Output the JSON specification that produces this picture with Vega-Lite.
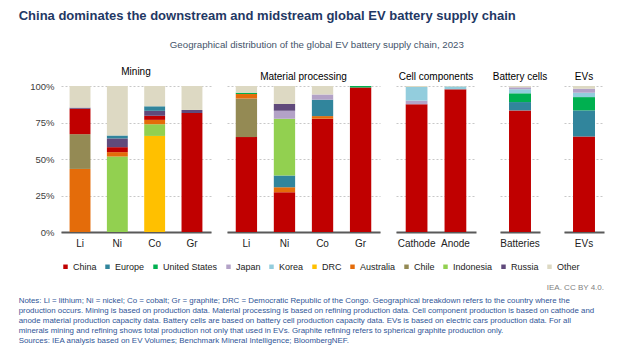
{
  "$schema": "https://vega.github.io/schema/vega-lite/v6.json",
  "padding": {"left": 18, "top": 10, "right": 5, "bottom": 5},
  "background": "white",
  "title": {
    "text": "China dominates the downstream and midstream global EV battery supply chain",
    "anchor": "start", "frame": "bounds", "fontSize": 13, "fontWeight": "bold",
    "font": "Liberation Sans", "color": "#1f3864", "offset": 17
  },
  "config": {
    "font": "Liberation Sans",
    "view": {"stroke": null},
    "axis": {"labelFont": "Liberation Sans", "labelColor": "#222222", "ticks": false, "title": null}
  },
  "datasets": {
    "d": [
      {"stage": "Mining", "item": "Li", "region": "Australia", "share": 43.2},
      {"stage": "Mining", "item": "Li", "region": "Chile", "share": 23.8},
      {"stage": "Mining", "item": "Li", "region": "China", "share": 17.4},
      {"stage": "Mining", "item": "Li", "region": "Russia", "share": 0.8},
      {"stage": "Mining", "item": "Li", "region": "Other", "share": 14.8},
      {"stage": "Mining", "item": "Ni", "region": "Indonesia", "share": 51.7},
      {"stage": "Mining", "item": "Ni", "region": "Australia", "share": 3.0},
      {"stage": "Mining", "item": "Ni", "region": "China", "share": 3.4},
      {"stage": "Mining", "item": "Ni", "region": "Russia", "share": 6.0},
      {"stage": "Mining", "item": "Ni", "region": "Europe", "share": 2.0},
      {"stage": "Mining", "item": "Ni", "region": "Other", "share": 33.9},
      {"stage": "Mining", "item": "Co", "region": "DRC", "share": 65.8},
      {"stage": "Mining", "item": "Co", "region": "Indonesia", "share": 8.0},
      {"stage": "Mining", "item": "Co", "region": "Australia", "share": 3.0},
      {"stage": "Mining", "item": "Co", "region": "China", "share": 2.8},
      {"stage": "Mining", "item": "Co", "region": "Russia", "share": 3.4},
      {"stage": "Mining", "item": "Co", "region": "Europe", "share": 3.1},
      {"stage": "Mining", "item": "Co", "region": "Other", "share": 13.9},
      {"stage": "Mining", "item": "Gr", "region": "China", "share": 81.5},
      {"stage": "Mining", "item": "Gr", "region": "Russia", "share": 2.1},
      {"stage": "Mining", "item": "Gr", "region": "Other", "share": 16.4},
      {"stage": "Material processing", "item": "Li", "region": "China", "share": 65.0},
      {"stage": "Material processing", "item": "Li", "region": "Chile", "share": 26.4},
      {"stage": "Material processing", "item": "Li", "region": "Australia", "share": 3.1},
      {"stage": "Material processing", "item": "Li", "region": "United States", "share": 0.9},
      {"stage": "Material processing", "item": "Li", "region": "Other", "share": 4.6},
      {"stage": "Material processing", "item": "Ni", "region": "China", "share": 27.2},
      {"stage": "Material processing", "item": "Ni", "region": "Australia", "share": 3.5},
      {"stage": "Material processing", "item": "Ni", "region": "Europe", "share": 8.0},
      {"stage": "Material processing", "item": "Ni", "region": "Indonesia", "share": 38.9},
      {"stage": "Material processing", "item": "Ni", "region": "Japan", "share": 5.4},
      {"stage": "Material processing", "item": "Ni", "region": "Russia", "share": 4.6},
      {"stage": "Material processing", "item": "Ni", "region": "Other", "share": 12.4},
      {"stage": "Material processing", "item": "Co", "region": "China", "share": 77.6},
      {"stage": "Material processing", "item": "Co", "region": "Australia", "share": 1.8},
      {"stage": "Material processing", "item": "Co", "region": "Europe", "share": 11.2},
      {"stage": "Material processing", "item": "Co", "region": "Japan", "share": 3.6},
      {"stage": "Material processing", "item": "Co", "region": "Other", "share": 5.8},
      {"stage": "Material processing", "item": "Gr", "region": "China", "share": 99.0},
      {"stage": "Material processing", "item": "Gr", "region": "United States", "share": 1.0},
      {"stage": "Cell components", "item": "Cathode", "region": "China", "share": 87.5},
      {"stage": "Cell components", "item": "Cathode", "region": "Japan", "share": 2.5},
      {"stage": "Cell components", "item": "Cathode", "region": "Korea", "share": 9.3},
      {"stage": "Cell components", "item": "Cathode", "region": "Other", "share": 0.7},
      {"stage": "Cell components", "item": "Anode", "region": "China", "share": 97.7},
      {"stage": "Cell components", "item": "Anode", "region": "Korea", "share": 2.0},
      {"stage": "Cell components", "item": "Anode", "region": "Other", "share": 0.3},
      {"stage": "Battery cells", "item": "Batteries", "region": "China", "share": 83.3},
      {"stage": "Battery cells", "item": "Batteries", "region": "Europe", "share": 5.7},
      {"stage": "Battery cells", "item": "Batteries", "region": "United States", "share": 6.0},
      {"stage": "Battery cells", "item": "Batteries", "region": "Korea", "share": 2.8},
      {"stage": "Battery cells", "item": "Batteries", "region": "Japan", "share": 1.3},
      {"stage": "Battery cells", "item": "Batteries", "region": "Other", "share": 0.9},
      {"stage": "EVs", "item": "EVs", "region": "China", "share": 65.4},
      {"stage": "EVs", "item": "EVs", "region": "Europe", "share": 17.9},
      {"stage": "EVs", "item": "EVs", "region": "United States", "share": 9.1},
      {"stage": "EVs", "item": "EVs", "region": "Korea", "share": 3.0},
      {"stage": "EVs", "item": "EVs", "region": "Japan", "share": 2.7},
      {"stage": "EVs", "item": "EVs", "region": "Other", "share": 1.9}
    ]
  },
  "vconcat": [
    {
      "title": {
        "text": [
          "Notes: Li = lithium; Ni = nickel; Co = cobalt; Gr = graphite; DRC = Democratic Republic of the Congo. Geographical breakdown refers to the country where the",
          "production occurs. Mining is based on production data. Material processing is based on refining production data. Cell component production is based on cathode and",
          "anode material production capacity data. Battery cells are based on battery cell production capacity data. EVs is based on electric cars production data. For all",
          "minerals mining and refining shows total production not only that used in EVs. Graphite refining refers to spherical graphite production only."
        ],
        "subtitle": "Sources: IEA analysis based on EV Volumes; Benchmark Mineral Intelligence; BloombergNEF.",
        "orient": "bottom", "anchor": "start", "frame": "bounds", "dx": -11, "offset": 5,
        "font": "Liberation Sans", "fontSize": 7.9, "fontWeight": "normal", "lineHeight": 10, "color": "#2f5597",
        "subtitleFont": "Liberation Sans", "subtitleFontSize": 7.9, "subtitleColor": "#2f5597", "subtitlePadding": 2
      },
      "resolve": {"scale": {"color": "independent"}, "legend": {"color": "independent"}},
      "vconcat": [
        {
          "title": {
            "text": "IEA. CC BY 4.0.", "orient": "bottom", "anchor": "end", "frame": "bounds", "offset": 12,
            "font": "Liberation Sans", "fontSize": 8, "fontWeight": "normal", "color": "#7f7f7f"
          },
          "vconcat": [
            {
              "title": {
                "text": "Geographical distribution of the global EV battery supply chain, 2023",
                "anchor": "middle", "frame": "bounds", "offset": 17,
                "font": "Liberation Sans", "fontSize": 9.7, "fontWeight": "normal", "color": "#44546a"
              },
              "spacing": 16,
              "hconcat": [
                {
                  "width": 150, "height": 146,
                  "title": {"text": "Mining", "frame": "group", "anchor": "middle", "offset": 4, "fontSize": 10, "fontWeight": "normal", "color": "#000000", "font": "Liberation Sans"},
                  "data": {"name": "d"},
                  "transform": [{"filter": "datum.stage === 'Mining'"}, {"window": [{"op": "row_number", "as": "idx"}]}],
                  "mark": {"type": "bar"},
                  "encoding": {
                    "x": {"field": "item", "type": "nominal", "sort": null, "scale": {"paddingInner": 0.44, "paddingOuter": 0.23},
                      "axis": {"labelAngle": 0, "labelFontSize": 10, "labelPadding": 6, "domain": true, "domainColor": "#595959", "domainWidth": 2, "grid": false}},
                    "y": {"field": "share", "type": "quantitative", "stack": "normalize", "scale": {"domain": [0, 1]},
                      "axis": {"values": [0, 0.25, 0.5, 0.75, 1], "format": ".0%", "labelFontSize": 9.5, "labelColor": "#404040", "labelPadding": 7, "domain": false, "grid": true, "gridColor": "#c8c8c8", "gridDash": [2, 2]}},
                    "color": {"field": "region", "type": "nominal",
                      "scale": {"domain": ["China", "Europe", "United States", "Japan", "Korea", "DRC", "Australia", "Chile", "Indonesia", "Russia", "Other"],
                        "range": ["#c00000", "#31859c", "#00b050", "#b3a2c7", "#93cddd", "#ffc000", "#e46c0a", "#948a54", "#92d050", "#604a7b", "#ddd9c3"]},
                      "legend": {"orient": "bottom", "direction": "horizontal", "title": null, "symbolType": "square", "symbolSize": 20, "symbolStrokeWidth": 0, "labelFontSize": 9, "labelFont": "Liberation Sans", "labelColor": "#222222", "columnPadding": 6, "labelOffset": 3, "offset": 14}},
                    "order": {"field": "idx", "type": "quantitative"}
                  }
                },
                {
                  "width": 153, "height": 146,
                  "title": {"text": "Material processing", "frame": "group", "anchor": "middle", "offset": 4, "fontSize": 10, "fontWeight": "normal", "color": "#000000", "font": "Liberation Sans"},
                  "data": {"name": "d"},
                  "transform": [{"filter": "datum.stage === 'Material processing'"}, {"window": [{"op": "row_number", "as": "idx"}]}],
                  "mark": {"type": "bar"},
                  "encoding": {
                    "x": {"field": "item", "type": "nominal", "sort": null, "scale": {"paddingInner": 0.44, "paddingOuter": 0.23},
                      "axis": {"labelAngle": 0, "labelFontSize": 10, "labelPadding": 6, "domain": true, "domainColor": "#595959", "domainWidth": 2, "grid": false}},
                    "y": {"field": "share", "type": "quantitative", "stack": "normalize", "scale": {"domain": [0, 1]},
                      "axis": {"values": [0, 0.25, 0.5, 0.75, 1], "labels": false, "domain": false, "grid": true, "gridColor": "#c8c8c8", "gridDash": [2, 2]}},
                    "color": {"field": "region", "type": "nominal",
                      "scale": {"domain": ["China", "Europe", "United States", "Japan", "Korea", "DRC", "Australia", "Chile", "Indonesia", "Russia", "Other"],
                        "range": ["#c00000", "#31859c", "#00b050", "#b3a2c7", "#93cddd", "#ffc000", "#e46c0a", "#948a54", "#92d050", "#604a7b", "#ddd9c3"]},
                      "legend": {"orient": "bottom", "direction": "horizontal", "title": null, "symbolType": "square", "symbolSize": 20, "symbolStrokeWidth": 0, "labelFontSize": 9, "labelFont": "Liberation Sans", "labelColor": "#222222", "columnPadding": 6, "labelOffset": 3, "offset": 14}},
                    "order": {"field": "idx", "type": "quantitative"}
                  }
                },
                {
                  "width": 80, "height": 146,
                  "title": {"text": "Cell components", "frame": "group", "anchor": "middle", "offset": 4, "fontSize": 10, "fontWeight": "normal", "color": "#000000", "font": "Liberation Sans"},
                  "data": {"name": "d"},
                  "transform": [{"filter": "datum.stage === 'Cell components'"}, {"window": [{"op": "row_number", "as": "idx"}]}],
                  "mark": {"type": "bar"},
                  "encoding": {
                    "x": {"field": "item", "type": "nominal", "sort": null, "scale": {"paddingInner": 0.44, "paddingOuter": 0.25},
                      "axis": {"labelAngle": 0, "labelFontSize": 10, "labelPadding": 6, "domain": true, "domainColor": "#595959", "domainWidth": 2, "grid": false}},
                    "y": {"field": "share", "type": "quantitative", "stack": "normalize", "scale": {"domain": [0, 1]},
                      "axis": {"values": [0, 0.25, 0.5, 0.75, 1], "labels": false, "domain": false, "grid": true, "gridColor": "#c8c8c8", "gridDash": [2, 2]}},
                    "color": {"field": "region", "type": "nominal",
                      "scale": {"domain": ["China", "Europe", "United States", "Japan", "Korea", "DRC", "Australia", "Chile", "Indonesia", "Russia", "Other"],
                        "range": ["#c00000", "#31859c", "#00b050", "#b3a2c7", "#93cddd", "#ffc000", "#e46c0a", "#948a54", "#92d050", "#604a7b", "#ddd9c3"]},
                      "legend": {"orient": "bottom", "direction": "horizontal", "title": null, "symbolType": "square", "symbolSize": 20, "symbolStrokeWidth": 0, "labelFontSize": 9, "labelFont": "Liberation Sans", "labelColor": "#222222", "columnPadding": 6, "labelOffset": 3, "offset": 14}},
                    "order": {"field": "idx", "type": "quantitative"}
                  }
                },
                {
                  "width": 40, "height": 146,
                  "title": {"text": "Battery cells", "frame": "group", "anchor": "middle", "offset": 4, "fontSize": 10, "fontWeight": "normal", "color": "#000000", "font": "Liberation Sans"},
                  "data": {"name": "d"},
                  "transform": [{"filter": "datum.stage === 'Battery cells'"}, {"window": [{"op": "row_number", "as": "idx"}]}],
                  "mark": {"type": "bar"},
                  "encoding": {
                    "x": {"field": "item", "type": "nominal", "sort": null, "scale": {"paddingInner": 0.44, "paddingOuter": 0.23},
                      "axis": {"labelAngle": 0, "labelFontSize": 10, "labelPadding": 6, "domain": true, "domainColor": "#595959", "domainWidth": 2, "grid": false}},
                    "y": {"field": "share", "type": "quantitative", "stack": "normalize", "scale": {"domain": [0, 1]},
                      "axis": {"values": [0, 0.25, 0.5, 0.75, 1], "labels": false, "domain": false, "grid": true, "gridColor": "#c8c8c8", "gridDash": [2, 2]}},
                    "color": {"field": "region", "type": "nominal",
                      "scale": {"domain": ["China", "Europe", "United States", "Japan", "Korea", "DRC", "Australia", "Chile", "Indonesia", "Russia", "Other"],
                        "range": ["#c00000", "#31859c", "#00b050", "#b3a2c7", "#93cddd", "#ffc000", "#e46c0a", "#948a54", "#92d050", "#604a7b", "#ddd9c3"]},
                      "legend": {"orient": "bottom", "direction": "horizontal", "title": null, "symbolType": "square", "symbolSize": 20, "symbolStrokeWidth": 0, "labelFontSize": 9, "labelFont": "Liberation Sans", "labelColor": "#222222", "columnPadding": 6, "labelOffset": 3, "offset": 14}},
                    "order": {"field": "idx", "type": "quantitative"}
                  }
                },
                {
                  "width": 40, "height": 146,
                  "title": {"text": "EVs", "frame": "group", "anchor": "middle", "offset": 4, "fontSize": 10, "fontWeight": "normal", "color": "#000000", "font": "Liberation Sans"},
                  "data": {"name": "d"},
                  "transform": [{"filter": "datum.stage === 'EVs'"}, {"window": [{"op": "row_number", "as": "idx"}]}],
                  "mark": {"type": "bar"},
                  "encoding": {
                    "x": {"field": "item", "type": "nominal", "sort": null, "scale": {"paddingInner": 0.44, "paddingOuter": 0.23},
                      "axis": {"labelAngle": 0, "labelFontSize": 10, "labelPadding": 6, "domain": true, "domainColor": "#595959", "domainWidth": 2, "grid": false}},
                    "y": {"field": "share", "type": "quantitative", "stack": "normalize", "scale": {"domain": [0, 1]},
                      "axis": {"values": [0, 0.25, 0.5, 0.75, 1], "labels": false, "domain": false, "grid": true, "gridColor": "#c8c8c8", "gridDash": [2, 2]}},
                    "color": {"field": "region", "type": "nominal",
                      "scale": {"domain": ["China", "Europe", "United States", "Japan", "Korea", "DRC", "Australia", "Chile", "Indonesia", "Russia", "Other"],
                        "range": ["#c00000", "#31859c", "#00b050", "#b3a2c7", "#93cddd", "#ffc000", "#e46c0a", "#948a54", "#92d050", "#604a7b", "#ddd9c3"]},
                      "legend": {"orient": "bottom", "direction": "horizontal", "title": null, "symbolType": "square", "symbolSize": 20, "symbolStrokeWidth": 0, "labelFontSize": 9, "labelFont": "Liberation Sans", "labelColor": "#222222", "columnPadding": 6, "labelOffset": 3, "offset": 14}},
                    "order": {"field": "idx", "type": "quantitative"}
                  }
                }
              ]
            }
          ]
        }
      ]
    }
  ]
}
